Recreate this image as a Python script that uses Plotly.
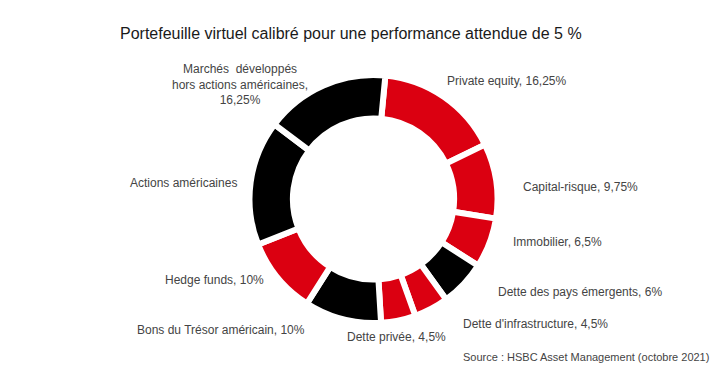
import plotly.graph_objects as go

# Data
categories = [
    "Private equity",
    "Capital-risque",
    "Immobilier",
    "Dette des pays émergents",
    "Dette d'infrastructure",
    "Dette privée",
    "Bons du Trésor américain",
    "Hedge funds",
    "Actions américaines",
    "Marchés  développés<br>hors actions américaines,",
]
weights = [16.25, 9.75, 6.5, 6, 4.5, 4.5, 10, 10, 16.25, 16.25]
groups = ["alt", "alt", "alt", "trad", "alt", "alt", "trad", "alt", "trad", "trad"]
show_pct = [True, True, True, True, True, True, True, True, False, True]
pct_sep = [", ", ", ", ", ", ", ", ", ", ", ", ", ", ", ", "", "<br>"]

title_text = "Portefeuille virtuel calibré pour une performance attendue de 5 %"
source_text = "Source : HSBC Asset Management (octobre 2021)"

# Styling
W, H = 725, 374
OFF = 8  # page body margin
RED, BLACK = "#DB0011", "#000000"
color_map = {"alt": RED, "trad": BLACK}
cx, cy, R = 373.5 - OFF, 199.0 - OFF, 124.0
label_pos = [
    (507, 81), (580, 187), (557, 242), (580, 292), (535, 324),
    (396, 337), (221, 330), (214, 280), (183, 183), (240, 84),
]
FONT = "Liberation Sans, Arial, sans-serif"


def fmt(v):
    s = ("%g" % v).replace(".", ",")
    return s + "%"


def px_to_paper(px, py):
    return (px - OFF) / W, 1 - (py - OFF) / H


fig = go.Figure(
    go.Pie(
        values=weights,
        labels=[c.replace("<br>", " ") for c in categories],
        marker=dict(colors=[color_map[g] for g in groups], line=dict(color="white", width=6)),
        sort=False,
        direction="clockwise",
        rotation=5.5,
        hole=0.65,
        textinfo="none",
        showlegend=False,
        domain=dict(x=[(cx - R) / W, (cx + R) / W], y=[(H - cy - R) / H, (H - cy + R) / H]),
    )
)

annotations = []
for cat, v, sp, sep, (px, py) in zip(categories, weights, show_pct, pct_sep, label_pos):
    txt = cat + (sep + fmt(v) if sp else "")
    x, y = px_to_paper(px, py)
    annotations.append(dict(
        text=txt, x=x, y=y, xref="paper", yref="paper",
        xanchor="center", yanchor="middle", showarrow=False, align="center",
        font=dict(family=FONT, size=12, color="#444444"),
    ))

x, y = px_to_paper(351, 33)
annotations.append(dict(
    text=title_text, x=x, y=y, xref="paper", yref="paper",
    xanchor="center", yanchor="middle", showarrow=False,
    font=dict(family=FONT, size=16, color="#1a1a1a"),
))
x, y = px_to_paper(711, 357)
annotations.append(dict(
    text=source_text, x=x, y=y, xref="paper", yref="paper",
    xanchor="right", yanchor="middle", showarrow=False,
    font=dict(family=FONT, size=11, color="#444444"),
))

fig.update_layout(
    width=W, height=H,
    margin=dict(l=0, r=0, t=0, b=0),
    paper_bgcolor="white", plot_bgcolor="white",
    annotations=annotations,
)

fig.write_html("out.html")
